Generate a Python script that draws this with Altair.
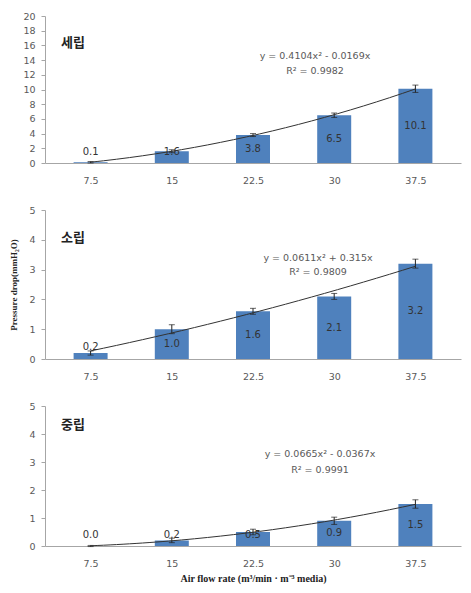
import altair as alt
import pandas as pd

flow = [7.5, 15, 22.5, 30, 37.5]
panel_names = ["세립", "소립", "중립"]
vals = [
    [0.1, 1.6, 3.8, 6.5, 10.1],
    [0.2, 1.0, 1.6, 2.1, 3.2],
    [0.0, 0.2, 0.5, 0.9, 1.5],
]
errs = [
    [0.1, 0.2, 0.2, 0.3, 0.5],
    [0.07, 0.15, 0.1, 0.1, 0.15],
    [0.02, 0.08, 0.1, 0.13, 0.15],
]
eqs = [
    ("y = 0.4104x\u00b2  -  0.0169x", "R\u00b2 = 0.9982"),
    ("y = 0.0611x\u00b2  +  0.315x", "R\u00b2 = 0.9809"),
    ("y = 0.0665x\u00b2  -  0.0367x", "R\u00b2 = 0.9991"),
]
ymax = [20, 5, 5]
ystep = [2, 1, 1]
heights = [147, 149, 140]
label_min = [1.5, 0.4, 0.4]
name_pos = [(16, 27), (16, 28), (16, 19)]
eq_pos = [(270, 40, 55), (273, 48, 62), (275, 48, 64)]

KFONT = "Noto Sans CJK KR"
FONT = "DejaVu Sans"
GRAY = "#595959"
W = 416


def panel(i):
    df = pd.DataFrame({"x": flow, "v": vals[i], "e": errs[i]})
    df["lo"] = df["v"] - df["e"]
    df["hi"] = df["v"] + df["e"]
    base = alt.Chart(df)
    xs = alt.Scale(domain=[3.75, 41.25], nice=False, zero=False)
    ys = alt.Scale(domain=[0, ymax[i]], nice=False)
    last = i == 2
    yvals = list(range(0, ymax[i] + 1, ystep[i]))
    xaxis = alt.Axis(
        values=flow, tickCount=len(flow), labelExpr="'' + datum.value", ticks=False,
        grid=False, domainColor="#a6a6a6", labelColor=GRAY, labelFont=FONT,
        labelFontSize=9.5, labelPadding=12,
        title="Air flow rate (m\u00b3/min \u00b7 m\u207b\u00b3 media)" if last else None,
        titleFont="Liberation Serif", titleFontSize=10, titleFontWeight="bold",
        titleColor="#222", titlePadding=6,
    )
    yaxis = alt.Axis(
        values=yvals, tickCount=len(yvals), grid=False, labelOverlap=False,
        domainColor="#a6a6a6", tickColor="#a6a6a6", tickSize=4,
        labelColor=GRAY, labelFont=FONT, labelFontSize=9.5, labelPadding=6,
        title="Pressure drop(mmH\u2082O)" if i == 1 else None,
        titleFont="Liberation Serif", titleFontSize=9, titleFontWeight="bold",
        titleColor="#222", titlePadding=10,
    )
    bars = base.mark_bar(size=34, color="#4F81BD").encode(
        x=alt.X("x:Q", scale=xs, axis=xaxis),
        y=alt.Y("v:Q", scale=ys, axis=yaxis),
    )
    rule = base.mark_rule(color="#222", strokeWidth=1).encode(
        x="x:Q", y="lo:Q", y2="hi:Q")
    caps_hi = base.mark_tick(color="#222", size=6, thickness=1, orient="horizontal").encode(
        x="x:Q", y="hi:Q")
    caps_lo = base.mark_tick(color="#222", size=6, thickness=1, orient="horizontal").encode(
        x="x:Q", y="lo:Q")
    trend = base.transform_regression(
        "x", "v", method="poly", order=2, extent=[7.5, 37.5]
    ).mark_line(color="#333", strokeWidth=1).encode(x="x:Q", y="v:Q")
    labels = base.transform_calculate(
        ly=f"max(datum.v / 2, {label_min[i]})",
        lbl="format(datum.v, '.1f')",
    ).mark_text(font=FONT, fontSize=10, color="#333", baseline="middle").encode(
        x="x:Q", y="ly:Q", text="lbl:N")
    one = alt.Chart(pd.DataFrame({
        "name": [panel_names[i]], "eq": [eqs[i][0]], "r2": [eqs[i][1]]}))
    name = one.mark_text(
        font=KFONT, fontSize=13, fontWeight="bold", color="#222", align="left",
        baseline="middle",
    ).encode(x=alt.value(name_pos[i][0]), y=alt.value(name_pos[i][1]), text="name:N")
    eq1 = one.mark_text(font=FONT, fontSize=9.5, color=GRAY,
                        align="center", baseline="middle").encode(
        x=alt.value(eq_pos[i][0]), y=alt.value(eq_pos[i][1]), text="eq:N")
    eq2 = one.mark_text(font=FONT, fontSize=9.5, color=GRAY,
                        align="center", baseline="middle").encode(
        x=alt.value(eq_pos[i][0]), y=alt.value(eq_pos[i][2]), text="r2:N")
    return alt.layer(bars, rule, caps_hi, caps_lo, trend, labels, name, eq1, eq2).properties(
        width=W, height=heights[i])


chart = alt.vconcat(panel(0), panel(1), panel(2), spacing=20).properties(
    padding={"top": 3, "left": 1, "right": 2, "bottom": 3}
).configure_view(stroke=None)

chart.save("out.html", embed_options={"renderer": "svg", "actions": False})
